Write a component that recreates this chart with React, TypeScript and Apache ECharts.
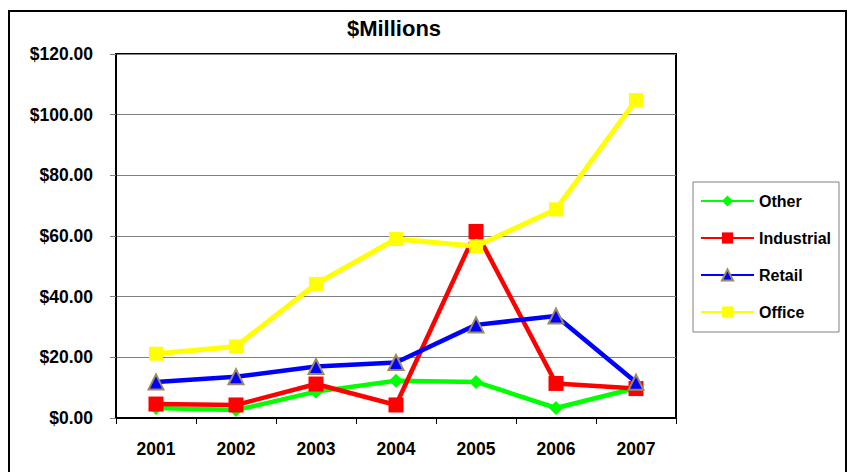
import React, { useEffect, useRef } from "react";
import * as echarts from "echarts";

const years = ["2001", "2002", "2003", "2004", "2005", "2006", "2007"];
const other = [3.3, 2.6, 8.7, 12.3, 11.9, 3.3, 9.9];
const industrial = [4.6, 4.3, 11.2, 4.3, 61.5, 11.4, 9.7];
const retail = [11.9, 13.6, 17.0, 18.3, 30.7, 33.6, 11.8];
const office = [21.2, 23.6, 44.2, 59.0, 56.6, 68.8, 104.8];

const FONT = "Arial, 'Liberation Sans', sans-serif";

export default function App() {
  const ref = useRef<HTMLDivElement>(null);
  useEffect(() => {
    document.body.style.margin = "0";
    const chart = echarts.init(ref.current!, null, { renderer: "svg" });
    const lineSeries = (name: string, data: number[], color: string, symbol: string, size: number, width: number, borderColor?: string) => ({
      name,
      type: "line",
      data,
      symbol,
      symbolSize: size,
      lineStyle: { color, width },
      itemStyle: { color, borderColor: borderColor || color, borderWidth: borderColor ? 2 : 0 },
    });
    chart.setOption({
      animation: false,
      backgroundColor: "#ffffff",
      textStyle: { fontFamily: FONT },
      title: {
        text: "$Millions",
        left: 389,
        top: 12,
        textAlign: "center",
        textStyle: { fontFamily: FONT, fontWeight: "bold", fontSize: 22, color: "#000" },
      },
      graphic: [
        {
          type: "rect",
          shape: { x: 9, y: 11, width: 837, height: 480 },
          style: { fill: "none", stroke: "#000", lineWidth: 2 },
          silent: true,
        },
      ],
      legend: {
        orient: "vertical",
        left: 693,
        top: 182,
        padding: [11, 8, 12, 7],
        itemGap: 21,
        itemWidth: 53,
        itemHeight: 14,
        borderColor: "#808080",
        borderWidth: 1,
        backgroundColor: "#fff",
        textStyle: { fontFamily: FONT, fontWeight: "bold", fontSize: 16, color: "#000" },
        data: ["Other", "Industrial", "Retail", "Office"],
      },
      grid: {
        left: 116,
        right: 173,
        top: 54,
        bottom: 54,
        show: true,
        borderColor: "#000",
        borderWidth: 2,
        containLabel: false,
      },
      xAxis: {
        type: "category",
        data: years,
        boundaryGap: true,
        axisLine: { show: true, lineStyle: { color: "#000", width: 2 } },
        axisTick: { show: true, length: 6, alignWithLabel: false, lineStyle: { color: "#000" } },
        axisLabel: { margin: 22, fontFamily: FONT, fontWeight: "bold", fontSize: 17.5, color: "#000" },
      },
      yAxis: {
        type: "value",
        min: 0,
        max: 120,
        interval: 20,
        axisLine: { show: true, lineStyle: { color: "#000", width: 2 } },
        axisTick: { show: true, length: 6, inside: false, lineStyle: { color: "#808080" } },
        splitLine: { show: true, lineStyle: { color: "#808080", width: 1 } },
        axisLabel: {
          margin: 23,
          fontFamily: FONT,
          fontWeight: "bold",
          fontSize: 17.5,
          color: "#000",
          formatter: (v: number) => "$" + v.toFixed(2),
        },
      },
      series: [
        lineSeries("Other", other, "#00ff00", "diamond", 14, 4.5),
        lineSeries("Industrial", industrial, "#ff0000", "rect", 15, 4.5),
        lineSeries("Retail", retail, "#0000ff", "triangle", 15, 4.5, "#9c8b5e"),
        lineSeries("Office", office, "#ffff00", "rect", 14, 5),
      ],
    });
    return () => chart.dispose();
  }, []);
  return <div ref={ref} style={{ width: 849, height: 472 }} />;
}
